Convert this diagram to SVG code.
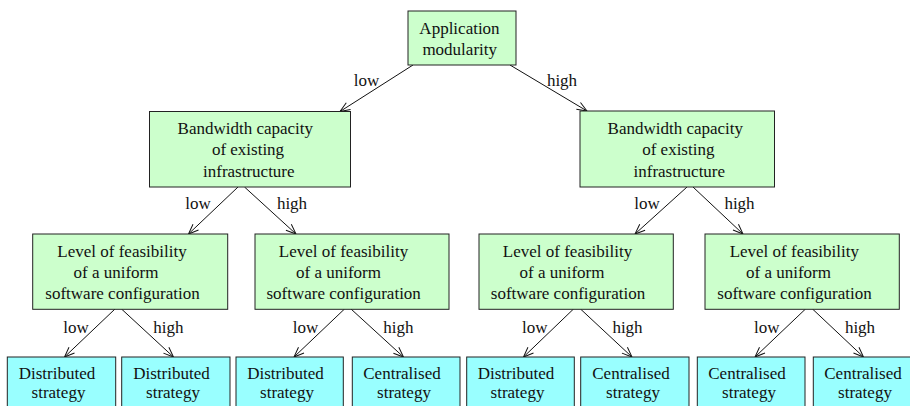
<svg xmlns="http://www.w3.org/2000/svg" width="910" height="406" viewBox="0 0 910 406">
<defs>
<style>
.g{fill:#ccffcc;stroke:#222;stroke-width:1}
.c{fill:#99ffff;stroke:#222;stroke-width:1}
text{font-family:'Liberation Serif','Times New Roman',Times,'DejaVu Serif',serif;font-size:17px;fill:#111;text-anchor:middle}
.e{stroke:#111;stroke-width:1;fill:none;marker-end:url(#v)}
</style>
<marker id="v" markerUnits="userSpaceOnUse" markerWidth="14" markerHeight="12" viewBox="-11 -6 12 12" refX="0" refY="0" orient="auto">
<path d="M-10,-4 L0,0 L-10,4" fill="none" stroke="#111" stroke-width="1"/>
</marker>
</defs>
<rect width="910" height="406" fill="#fff"/>
<g id="connectors">
<line class="e" x1="413" y1="65" x2="340" y2="111.5"/>
<line class="e" x1="510" y1="65" x2="587" y2="111"/>
<line class="e" x1="238" y1="187" x2="188.5" y2="234"/>
<line class="e" x1="244.5" y1="187" x2="296" y2="234"/>
<line class="e" x1="687" y1="187" x2="635" y2="234"/>
<line class="e" x1="693" y1="187" x2="743" y2="234"/>
<line class="e" x1="115" y1="309" x2="64.5" y2="357"/>
<line class="e" x1="121.5" y1="309" x2="173.5" y2="357"/>
<line class="e" x1="344.5" y1="309" x2="294" y2="357"/>
<line class="e" x1="351" y1="309" x2="403.5" y2="357"/>
<line class="e" x1="573.5" y1="309" x2="523.5" y2="357"/>
<line class="e" x1="580.5" y1="309" x2="632" y2="357"/>
<line class="e" x1="805.5" y1="309" x2="755" y2="357"/>
<line class="e" x1="812.5" y1="309" x2="863.5" y2="357"/>
<text x="366.5" y="86">low</text>
<text x="562" y="86">high</text>
<text x="198" y="209">low</text>
<text x="292" y="209">high</text>
<text x="647" y="209">low</text>
<text x="739.5" y="209">high</text>
<text x="76" y="333">low</text>
<text x="168.3" y="333">high</text>
<text x="305.5" y="333">low</text>
<text x="398.3" y="333">high</text>
<text x="534.8" y="333">low</text>
<text x="627.5" y="333">high</text>
<text x="766.7" y="333">low</text>
<text x="860" y="333">high</text>
</g>
<g id="root">
<rect class="g" x="408" y="11" width="108" height="54"/>
<text x="459.5" y="33.5">Application</text>
<text x="459.7" y="54.5">modularity</text>
</g>
<g id="bw_left">
<rect class="g" x="149.5" y="111.5" width="201" height="75.5"/>
<text x="245.3" y="133.5">Bandwidth capacity</text>
<text x="248" y="155">of existing</text>
<text x="248.8" y="176.5">infrastructure</text>
</g>
<g id="bw_right">
<rect class="g" x="580" y="111" width="194.5" height="76"/>
<text x="675.3" y="133.5">Bandwidth capacity</text>
<text x="678.3" y="155">of existing</text>
<text x="679.3" y="176.5">infrastructure</text>
</g>
<g id="lf1">
<rect class="g" x="32.7" y="234" width="195" height="75.3"/>
<text x="122" y="256.5">Level of feasibility</text>
<text x="116" y="277.5">of a uniform</text>
<text x="122.5" y="298.5">software configuration</text>
</g>
<g id="lf2">
<rect class="g" x="255" y="234" width="194" height="75.3"/>
<text x="343.5" y="256.5">Level of feasibility</text>
<text x="338.5" y="277.5">of a uniform</text>
<text x="343.7" y="298.5">software configuration</text>
</g>
<g id="lf3">
<rect class="g" x="479" y="234" width="194.3" height="75.3"/>
<text x="567.5" y="256.5">Level of feasibility</text>
<text x="562" y="277.5">of a uniform</text>
<text x="568" y="298.5">software configuration</text>
</g>
<g id="lf4">
<rect class="g" x="705" y="234" width="194.3" height="75.3"/>
<text x="794.3" y="256.5">Level of feasibility</text>
<text x="788.5" y="277.5">of a uniform</text>
<text x="794.5" y="298.5">software configuration</text>
</g>
<g id="leaf1">
<rect class="c" x="7.3" y="357" width="108.4" height="56"/>
<text x="57" y="378.5">Distributed</text>
<text x="58.5" y="398">strategy</text>
</g>
<g id="leaf2">
<rect class="c" x="121.7" y="357" width="108.3" height="56"/>
<text x="171.5" y="378.5">Distributed</text>
<text x="173" y="398">strategy</text>
</g>
<g id="leaf3">
<rect class="c" x="236" y="357" width="107.3" height="56"/>
<text x="285.5" y="378.5">Distributed</text>
<text x="287" y="398">strategy</text>
</g>
<g id="leaf4">
<rect class="c" x="352.3" y="357" width="107.7" height="56"/>
<text x="402" y="378.5">Centralised</text>
<text x="404" y="398">strategy</text>
</g>
<g id="leaf5">
<rect class="c" x="466.7" y="357" width="107.6" height="56"/>
<text x="516" y="378.5">Distributed</text>
<text x="517.5" y="398">strategy</text>
</g>
<g id="leaf6">
<rect class="c" x="580.7" y="357" width="108.3" height="56"/>
<text x="631" y="378.5">Centralised</text>
<text x="633" y="398">strategy</text>
</g>
<g id="leaf7">
<rect class="c" x="697.3" y="357" width="107.7" height="56"/>
<text x="747" y="378.5">Centralised</text>
<text x="749" y="398">strategy</text>
</g>
<g id="leaf8">
<rect class="c" x="813.3" y="357" width="108" height="56"/>
<text x="863" y="378.5">Centralised</text>
<text x="865" y="398">strategy</text>
</g>
</svg>
